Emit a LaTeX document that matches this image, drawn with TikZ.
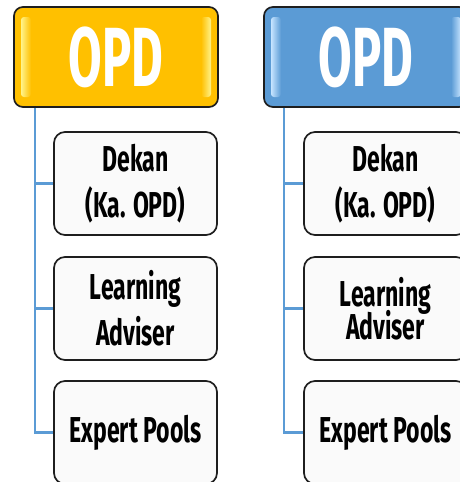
\documentclass[tikz,border=0pt]{standalone}
\usepackage{fontspec}
\setmainfont{Fira Sans}
\newfontfamily\agency{Fira Sans}[FakeStretch=0.64]
\newfontfamily\agencyhead{Fira Sans}[FakeStretch=0.58]
\usetikzlibrary{positioning,calc}

\definecolor{opdyellow}{HTML}{FFC000}
\definecolor{opdyellowlight}{HTML}{FFF38A}
\definecolor{opdblue}{HTML}{5B9BD5}
\definecolor{opdbluelight}{HTML}{C6E4FF}
\definecolor{linkblue}{HTML}{5B9BD5}
\definecolor{edgeblack}{HTML}{1E1E1E}

\tikzset{
  head/.style={draw=edgeblack, line width=1.7pt, rounded corners=9pt,
    minimum width=204pt, minimum height=100pt, inner sep=0pt, text=white,
    font=\agencyhead\bfseries\fontsize{84}{84}\selectfont},
  unit/.style={draw=edgeblack, line width=1.7pt, rounded corners=11pt,
    fill=black!2, minimum width=163pt, minimum height=103pt, inner sep=0pt,
    align=center, font=\agency\bfseries\fontsize{36}{46}\selectfont},
  link/.style={draw=linkblue, line width=2.4pt}
}

\begin{document}
\begin{tikzpicture}[x=1pt,y=-1pt]
    \useasboundingbox (0,0) rectangle (460,482);
    \clip (0,0) rectangle (460,482);

    % Left column
    \node[head, fill=opdyellow] (opdA) at (116,57) {OPD};
    \shade[rounded corners=3pt, left color=opdyellowlight, right color=opdyellow]
        (21,17) rectangle (31,97);
    \shade[rounded corners=3pt, left color=opdyellow, right color=opdyellowlight]
        (201,17) rectangle (211,97);
    \node[unit] (dekanA) at (135.5,183.5) {Dekan\\(Ka. OPD)};
    \node[unit] (adviserA) at (135.5,308.5) {Learning\\Adviser};
    \node[unit] (poolsA) at (135.5,432.5) {Expert Pools};

    \coordinate (trunkA) at ($(opdA.south west)+(22,0)$);
    \draw[link] (trunkA) |- (dekanA.west);
    \draw[link] (trunkA) |- (adviserA.west);
    \draw[link] (trunkA) |- (poolsA.west);

    % Right column
    \node[head, fill=opdblue] (opdB) at (366,57) {OPD};
    \shade[rounded corners=3pt, left color=opdbluelight, right color=opdblue]
        (271,17) rectangle (281,97);
    \shade[rounded corners=3pt, left color=opdblue, right color=opdbluelight]
        (451,17) rectangle (461,97);
    \node[unit] (dekanB) at (385.5,183.5) {Dekan\\(Ka. OPD)};
    \node[unit] (adviserB) at (385.5,308.5) {Learning\\[-13pt]Adviser};
    \node[unit] (poolsB) at (385.5,432.5) {Expert Pools};

    \coordinate (trunkB) at ($(opdB.south west)+(21,0)$);
    \draw[link] (trunkB) |- (dekanB.west);
    \draw[link] (trunkB) |- (adviserB.west);
    \draw[link] (trunkB) |- (poolsB.west);
\end{tikzpicture}
\end{document}
